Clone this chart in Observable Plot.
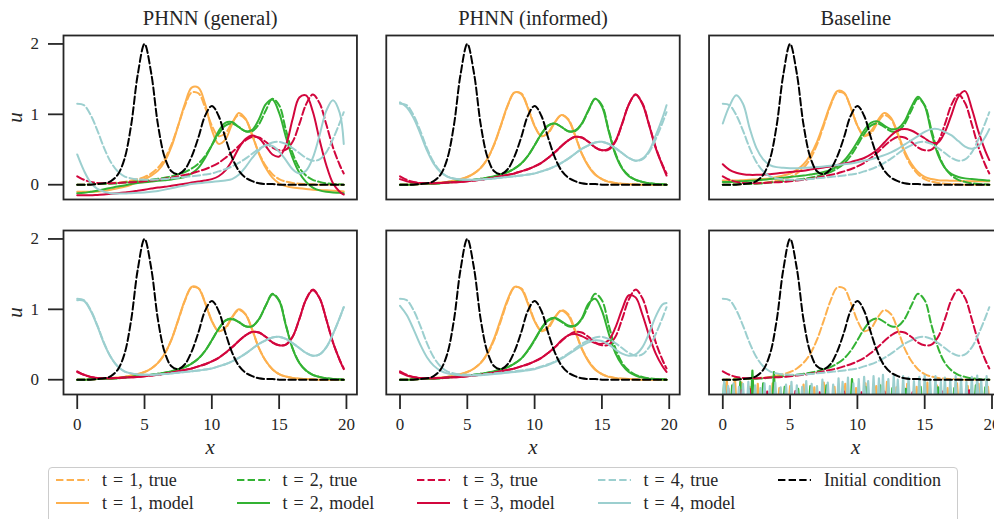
<!DOCTYPE html>
<html><head><meta charset="utf-8">
<script src="https://cdn.jsdelivr.net/npm/d3@7"></script>
<script src="https://cdn.jsdelivr.net/npm/@observablehq/plot@0.6"></script>
<style>
html,body{margin:0;padding:0;background:#fff;overflow:hidden;width:994px;height:519px;}
#chart{position:absolute;left:0;top:0;width:1002px;}
#chart svg{max-width:none !important;}
#legend{position:absolute;left:48px;top:467px;width:910px;height:56px;border:1px solid #cccccc;border-radius:4px;box-sizing:border-box;background:#fff;font-family:"Liberation Serif",serif;color:#262626;}
.item{position:absolute;display:flex;align-items:center;height:22px;font-size:18px;white-space:nowrap;word-spacing:1.5px;}
.item svg{margin-right:13px;flex:none;}
</style></head><body>
<div id="chart"></div><div id="legend"></div>
<script>
// ---------- data ----------
const panelTitles = ["PHNN (general)", "PHNN (informed)", "Baseline"];
const xTicks = [0, 5, 10, 15, 20];
const yTicks = [0, 1, 2];
const xGrid = [0,0.5,1,1.5,2,2.5,3,3.5,4,4.5,5,5.5,6,6.5,7,7.5,8,8.5,9,9.5,10,10.5,11,11.5,12,12.5,13,13.5,14,14.5,15,15.5,16,16.5,17,17.5,18,18.5,19,19.5,19.8];

const initialCondition = [0,0,0,0.01,0.02,0.05,0.14,0.36,0.84,1.57, 2.0,1.58,0.85,0.39,0.19,0.15,0.22,0.40,0.67,0.98, 1.12,0.98,0.67,0.39,0.20,0.10,0.05,0.02,0.01,0.01, 0,0,0,0,0,0,0,0,0,0, 0];

const trueT1 = [0,0,0.005,0.01,0.015,0.02,0.03,0.04,0.06,0.08, 0.11,0.16,0.24,0.37,0.57,0.84,1.12,1.31,1.30,1.10, 0.84,0.69,0.73,0.88,0.99,0.93,0.71,0.45,0.27,0.15, 0.08,0.045,0.025,0.015,0.01,0.005,0,0,0,0, 0];
const trueT2 = [0,0,0.005,0.01,0.01,0.015,0.02,0.03,0.04,0.05, 0.06,0.07,0.085,0.10,0.12,0.15,0.18,0.23,0.30,0.41, 0.56,0.72,0.84,0.87,0.82,0.76,0.76,0.86,1.05,1.22, 1.13,0.78,0.45,0.24,0.13,0.07,0.04,0.02,0.01,0.005, 0];
const trueT3 = [0.12,0.07,0.04,0.025,0.02,0.02,0.025,0.03,0.035,0.04, 0.05,0.06,0.07,0.085,0.10,0.12,0.14,0.16,0.19,0.22, 0.26,0.31,0.38,0.46,0.55,0.63,0.68,0.67,0.61,0.53, 0.49,0.50,0.61,0.86,1.14,1.28,1.16,0.86,0.53,0.28, 0.16];
const trueT4 = [1.15,1.13,0.99,0.77,0.52,0.32,0.19,0.12,0.09,0.075, 0.07,0.07,0.075,0.08,0.09,0.10,0.11,0.12,0.13,0.145, 0.16,0.19,0.22,0.26,0.31,0.37,0.44,0.51,0.56,0.60, 0.61,0.58,0.52,0.45,0.38,0.34,0.36,0.46,0.65,0.88, 1.03];

// PHNN (general), top row
const genTop1 = [-0.10,-0.10,-0.10,-0.095,-0.085,-0.07,-0.05,-0.03,0.0,0.04, 0.08,0.13,0.20,0.33,0.54,0.84,1.15,1.38,1.38,1.15, 0.78,0.58,0.64,0.86,1.02,0.94,0.70,0.44,0.24,0.10, 0.02,-0.02,-0.04,-0.05,-0.06,-0.07,-0.075,-0.08,-0.085,-0.09, -0.095];
const genTop2 = [-0.12,-0.115,-0.10,-0.085,-0.065,-0.045,-0.025,-0.01,0.01,0.025, 0.035,0.045,0.055,0.065,0.075,0.09,0.11,0.16,0.24,0.38, 0.56,0.76,0.88,0.89,0.82,0.76,0.78,0.93,1.14,1.21, 1.02,0.68,0.38,0.17,0.04,-0.04,-0.08,-0.10,-0.11,-0.115, -0.12];
const genTop3 = [-0.15,-0.15,-0.15,-0.145,-0.14,-0.13,-0.12,-0.11,-0.10,-0.085, -0.07,-0.055,-0.04,-0.03,-0.015,0.0,0.015,0.03,0.045,0.06, 0.08,0.12,0.20,0.34,0.52,0.65,0.70,0.66,0.55,0.43, 0.40,0.56,0.93,1.24,1.27,1.04,0.64,0.28,0.02,-0.10, -0.14];
const genTop4 = [0.43,0.20,0.03,-0.06,-0.10,-0.12,-0.125,-0.125,-0.12,-0.115, -0.11,-0.10,-0.09,-0.07,-0.05,-0.03,-0.01,0.01,0.02,0.03, 0.04,0.05,0.06,0.08,0.14,0.25,0.38,0.49,0.56,0.55, 0.47,0.35,0.22,0.16,0.20,0.38,0.70,1.05,1.20,1.02, 0.58];

// PHNN (informed), top row
const infTop1 = [0,0,0.005,0.01,0.015,0.02,0.03,0.04,0.06,0.08, 0.11,0.16,0.24,0.37,0.58,0.85,1.13,1.31,1.29,1.09, 0.83,0.69,0.74,0.89,0.99,0.92,0.70,0.44,0.26,0.14, 0.08,0.04,0.02,0.01,0.005,0,0,0,0,0, 0];
const infTop2 = [0,0,0.005,0.01,0.01,0.015,0.02,0.03,0.04,0.05, 0.06,0.07,0.085,0.10,0.12,0.15,0.18,0.23,0.30,0.41, 0.56,0.72,0.84,0.87,0.82,0.76,0.77,0.87,1.06,1.22, 1.11,0.76,0.43,0.23,0.12,0.07,0.04,0.02,0.01,0.005, 0];
const infTop3 = [0.08,0.05,0.03,0.02,0.02,0.02,0.025,0.03,0.035,0.04, 0.05,0.06,0.07,0.085,0.10,0.12,0.14,0.16,0.19,0.22, 0.26,0.31,0.38,0.46,0.55,0.63,0.68,0.67,0.61,0.53, 0.49,0.51,0.62,0.87,1.14,1.28,1.15,0.85,0.52,0.27, 0.13];
const infTop4 = [1.17,1.10,0.95,0.73,0.49,0.30,0.18,0.115,0.085,0.075, 0.07,0.07,0.075,0.08,0.09,0.10,0.11,0.12,0.13,0.145, 0.16,0.19,0.22,0.26,0.31,0.37,0.44,0.51,0.56,0.60, 0.61,0.58,0.52,0.45,0.38,0.34,0.37,0.48,0.70,0.95, 1.13];

// Baseline, top row
const baseTop1 = [0.06,0.06,0.06,0.065,0.07,0.075,0.08,0.09,0.11,0.13, 0.16,0.21,0.29,0.42,0.61,0.87,1.14,1.33,1.31,1.10, 0.84,0.70,0.76,0.91,1.02,0.95,0.73,0.48,0.30,0.18, 0.11,0.08,0.065,0.06,0.055,0.055,0.05,0.05,0.05,0.05, 0.05];
const baseTop2 = [0.04,0.04,0.045,0.05,0.055,0.06,0.07,0.08,0.09,0.10, 0.11,0.12,0.13,0.145,0.16,0.18,0.21,0.26,0.34,0.46, 0.61,0.77,0.88,0.90,0.84,0.79,0.80,0.90,1.10,1.25, 1.12,0.74,0.42,0.24,0.15,0.11,0.09,0.08,0.07,0.065, 0.06];
const baseTop3 = [0.29,0.21,0.17,0.15,0.14,0.14,0.145,0.15,0.16,0.17, 0.18,0.19,0.20,0.215,0.23,0.245,0.26,0.28,0.30,0.32, 0.35,0.38,0.43,0.50,0.60,0.70,0.77,0.79,0.77,0.72, 0.66,0.60,0.60,0.75,1.00,1.25,1.33,1.08,0.75,0.48, 0.35];
const baseTop4 = [0.87,1.12,1.27,1.15,0.80,0.52,0.36,0.28,0.25,0.24, 0.235,0.235,0.24,0.245,0.25,0.26,0.27,0.28,0.29,0.30, 0.32,0.34,0.36,0.39,0.42,0.46,0.51,0.57,0.63,0.69, 0.75,0.79,0.79,0.75,0.70,0.62,0.54,0.51,0.55,0.68, 0.79];

// PHNN (general), bottom row
const genBot1 = [0,0,0.005,0.01,0.015,0.02,0.03,0.04,0.06,0.08, 0.11,0.16,0.24,0.37,0.57,0.85,1.13,1.32,1.30,1.09, 0.83,0.69,0.74,0.89,1.00,0.93,0.71,0.45,0.27,0.15, 0.08,0.045,0.025,0.015,0.01,0.005,0,0,0,0, 0];
const genBot2 = [0,0,0.005,0.01,0.01,0.015,0.02,0.03,0.04,0.05, 0.06,0.07,0.085,0.10,0.12,0.15,0.18,0.23,0.30,0.41, 0.56,0.72,0.84,0.86,0.82,0.76,0.76,0.86,1.05,1.21, 1.12,0.77,0.44,0.24,0.13,0.07,0.04,0.02,0.01,0.005, 0];
const genBot3 = [0.11,0.07,0.04,0.025,0.02,0.02,0.025,0.03,0.035,0.04, 0.05,0.06,0.07,0.085,0.10,0.12,0.14,0.16,0.19,0.22, 0.26,0.31,0.38,0.46,0.55,0.63,0.68,0.67,0.61,0.53, 0.49,0.50,0.61,0.86,1.14,1.27,1.16,0.86,0.53,0.28, 0.15];
const genBot4 = [1.13,1.12,0.98,0.76,0.51,0.32,0.19,0.12,0.09,0.075, 0.07,0.07,0.075,0.08,0.09,0.10,0.11,0.12,0.13,0.145, 0.16,0.19,0.22,0.26,0.31,0.37,0.44,0.51,0.56,0.60, 0.61,0.58,0.52,0.45,0.38,0.34,0.36,0.46,0.65,0.88, 1.03];

// PHNN (informed), bottom row
const infBot1 = [0,0,0.005,0.01,0.015,0.02,0.03,0.04,0.06,0.08, 0.11,0.16,0.24,0.38,0.59,0.87,1.14,1.32,1.29,1.08, 0.83,0.70,0.75,0.89,0.98,0.91,0.69,0.44,0.26,0.14, 0.08,0.04,0.02,0.015,0.01,0.005,0,0,0,0, 0];
const infBot2 = [0,0,0.005,0.01,0.01,0.015,0.02,0.03,0.04,0.05, 0.06,0.07,0.085,0.10,0.12,0.15,0.18,0.23,0.30,0.42, 0.57,0.73,0.85,0.88,0.83,0.77,0.77,0.87,1.08,1.15, 0.98,0.66,0.38,0.21,0.11,0.06,0.03,0.015,0.01,0.005, 0];
const infBot3 = [0.10,0.06,0.035,0.025,0.02,0.02,0.025,0.03,0.035,0.04, 0.05,0.06,0.07,0.085,0.10,0.12,0.14,0.16,0.19,0.22, 0.26,0.31,0.38,0.46,0.56,0.63,0.65,0.62,0.57,0.52, 0.51,0.56,0.74,1.00,1.20,1.17,0.93,0.63,0.37,0.19, 0.11];
const infBot4 = [1.05,0.92,0.72,0.50,0.32,0.20,0.13,0.09,0.075,0.065, 0.06,0.06,0.065,0.07,0.08,0.09,0.10,0.11,0.12,0.135, 0.15,0.18,0.21,0.25,0.30,0.36,0.42,0.48,0.53,0.56, 0.55,0.50,0.43,0.37,0.34,0.36,0.46,0.66,0.90,1.07, 1.09];

// Baseline, bottom row: noisy model output, [x, spike top]
const noiseT1 = [[0.3,0.0],[0.9,0.03],[1.4,-0.04],[2.0,-0.1],[2.6,-0.06],[3.7,-0.05],[4.2,-0.12],[5.0,-0.09],[6.0,-0.07],[6.8,-0.11],[7.5,-0.04],[8.3,-0.1],[9.1,-0.06],[9.9,-0.12],[10.6,-0.05],[11.4,-0.09],[12.2,-0.03],[12.9,-0.11],[13.7,-0.06],[14.4,-0.1],[15.2,-0.04],[15.9,-0.08],[16.7,-0.12],[17.4,-0.05],[18.2,-0.09],[19.0,-0.06],[19.7,-0.1]];
const noiseT2 = [[0.1,-0.04],[0.7,-0.08],[1.3,-0.03],[2.2,0.13],[3.0,-0.05],[3.8,0.11],[4.6,-0.1],[5.6,-0.13],[6.5,-0.09],[7.7,-0.08],[8.6,-0.11],[9.6,0.01],[10.6,-0.1],[11.7,-0.08],[12.6,-0.12],[13.6,-0.13],[14.7,-0.1],[16.0,-0.11],[17.2,-0.12],[18.8,-0.08],[19.5,-0.11]];
const noiseT3 = [[0.4,-0.12],[1.4,-0.15],[2.0,-0.13],[3.3,-0.17],[5.4,-0.16],[7.2,-0.18],[9.0,-0.17],[10.3,-0.18],[12.0,-0.17],[14.1,-0.18],[16.3,-0.17],[18.3,-0.15],[19.6,-0.07]];
const noiseT4 = [[0.1,-0.02],[0.4,-0.09],[0.8,-0.05],[1.2,-0.1],[1.5,-0.06],[1.9,-0.03],[2.4,-0.08],[2.8,-0.12],[3.1,-0.05],[3.5,-0.09],[3.9,-0.04],[4.3,-0.11],[4.7,-0.07],[5.1,-0.03],[5.5,-0.08],[5.9,-0.1],[6.2,-0.02],[6.6,-0.06],[7.0,-0.09],[7.4,0.0],[7.8,-0.04],[8.2,-0.07],[8.6,0.02],[8.9,-0.03],[9.3,0.03],[9.7,-0.05],[10.1,0.01],[10.5,0.04],[10.8,-0.02],[11.2,0.05],[11.6,0.02],[11.9,0.07],[12.3,0.01],[12.7,0.06],[13.0,0.0],[13.4,0.05],[13.8,0.03],[14.2,-0.02],[14.6,0.04],[15.0,0.06],[15.4,0.01],[15.8,0.05],[16.2,-0.03],[16.5,0.03],[16.9,0.0],[17.3,0.05],[17.7,0.02],[18.1,-0.03],[18.5,0.04],[18.9,0.06],[19.2,0.0],[19.6,0.05]];

const legendTrue = ["t = 1, true", "t = 2, true", "t = 3, true", "t = 4, true"];
const legendModel = ["t = 1, model", "t = 2, model", "t = 3, model", "t = 4, model"];
const legendIC = "Initial condition";

// ---------- build ----------
const FONT = '"Liberation Serif", serif';
const seriesColors = ["#fdb04e", "#33b233", "#d2063d", "#9ccfcf"];
const icColor = "#000000";
const DASH = "7.4,3.2";
const noiseFloor = -0.4;
const trueSeries = [trueT1, trueT2, trueT3, trueT4];
const noiseSeries = [noiseT1, noiseT2, noiseT3, noiseT4];
const panels = [
  {col: panelTitles[0], row: "top", model: [genTop1, genTop2, genTop3, genTop4]},
  {col: panelTitles[1], row: "top", model: [infTop1, infTop2, infTop3, infTop4]},
  {col: panelTitles[2], row: "top", model: [baseTop1, baseTop2, baseTop3, baseTop4]},
  {col: panelTitles[0], row: "bottom", model: [genBot1, genBot2, genBot3, genBot4]},
  {col: panelTitles[1], row: "bottom", model: [infBot1, infBot2, infBot3, infBot4]},
  {col: panelTitles[2], row: "bottom", model: null, noise: noiseSeries}
];
const rowsFor = (values, col, row) => xGrid.map((x, i) => ({col, row, x, u: values[i]}));
const lineOpts = {x: "x", y: "u", fx: "col", fy: "row", strokeWidth: 2, curve: "catmull-rom"};
const ink = "#262626";

const marks = [];
for (let k = 0; k < 4; k++) {
  marks.push(Plot.line(panels.flatMap(p => rowsFor(trueSeries[k], p.col, p.row)),
    {...lineOpts, stroke: seriesColors[k], strokeDasharray: DASH, clip: true}));
  marks.push(Plot.line(panels.filter(p => p.model).flatMap(p => rowsFor(p.model[k], p.col, p.row)),
    {...lineOpts, stroke: seriesColors[k], clip: true}));
  const np = panels.find(p => p.noise);
  const noiseRows = np.noise[k].flatMap(([x, h]) => [
    {col: np.col, row: np.row, x: x - 0.12, u: noiseFloor},
    {col: np.col, row: np.row, x, u: h},
    {col: np.col, row: np.row, x: x + 0.12, u: noiseFloor}]);
  marks.push(Plot.line(noiseRows, {...lineOpts, curve: "linear", strokeWidth: 2.2, stroke: seriesColors[k], clip: true}));
}
marks.push(Plot.line(panels.flatMap(p => rowsFor(initialCondition, p.col, p.row)),
  {...lineOpts, stroke: icColor, strokeDasharray: DASH, clip: true}));

marks.push(Plot.frame({stroke: ink, strokeWidth: 1.8}));
marks.push(Plot.axisX({ticks: xTicks, tickSize: 15, tickPadding: 8, stroke: ink, strokeWidth: 1.8, fontSize: 17, fontFamily: FONT, label: null, tickFormat: d => String(d)}));
marks.push(Plot.axisY({ticks: yTicks, tickSize: 15, tickPadding: 9.5, stroke: ink, strokeWidth: 1.8, fontSize: 17, fontFamily: FONT, label: null, tickFormat: d => String(d)}));
marks.push(Plot.text(panelTitles.map(c => ({col: c, row: "top"})),
  {fx: "col", fy: "row", frameAnchor: "top", dy: -17, text: d => d.col, fontSize: 20.5, fontFamily: FONT, lineAnchor: "middle", fill: ink}));
marks.push(Plot.text([{col: panelTitles[0], row: "top"}, {col: panelTitles[0], row: "bottom"}],
  {fx: "col", fy: "row", frameAnchor: "left", dx: -48, text: d => "u", rotate: -90, fontSize: 21, fontFamily: FONT, fontStyle: "italic", lineAnchor: "middle", textAnchor: "middle", fill: ink}));
marks.push(Plot.text(panelTitles.map(c => ({col: c, row: "bottom"})),
  {fx: "col", fy: "row", frameAnchor: "bottom", dy: 53, text: d => "x", fontSize: 21, fontFamily: FONT, fontStyle: "italic", lineAnchor: "middle", fill: ink}));

const chart = Plot.plot({
  width: 1002, height: 462,
  marginTop: 35, marginLeft: 63, marginRight: 0, marginBottom: 68,
  style: {fontFamily: FONT, fontSize: "17px", color: ink, background: "white", overflow: "visible", maxWidth: "none"},
  fx: {domain: panelTitles, paddingInner: 0.0909, paddingOuter: 0, round: false, axis: null, label: null},
  fy: {domain: ["top", "bottom"], paddingInner: 0.159, paddingOuter: 0, round: false, axis: null, label: null},
  x: {domain: [-1.02, 20.78]},
  y: {domain: [-0.21, 2.12]},
  marks
});
document.getElementById("chart").appendChild(chart);

// ---------- legend ----------
const legendEntries = [];
for (let k = 0; k < 4; k++) {
  legendEntries.push({label: legendTrue[k], color: seriesColors[k], dash: true, col: k, row: 0});
  legendEntries.push({label: legendModel[k], color: seriesColors[k], dash: false, col: k, row: 1});
}
legendEntries.push({label: legendIC, color: icColor, dash: true, col: 4, row: 0});
const legend = d3.select("#legend");
for (const e of legendEntries) {
  const item = legend.append("div").attr("class", "item")
    .style("left", (7 + e.col * 180.5) + "px")
    .style("top", (e.row === 0 ? 1 : 24) + "px");
  const sw = item.append("svg").attr("width", 33).attr("height", 10);
  sw.append("line").attr("x1", 0).attr("x2", 33).attr("y1", 5).attr("y2", 5)
    .attr("stroke", e.color).attr("stroke-width", 2)
    .attr("stroke-dasharray", e.dash ? DASH : null);
  item.append("span").text(e.label);
}
</script></body></html>
